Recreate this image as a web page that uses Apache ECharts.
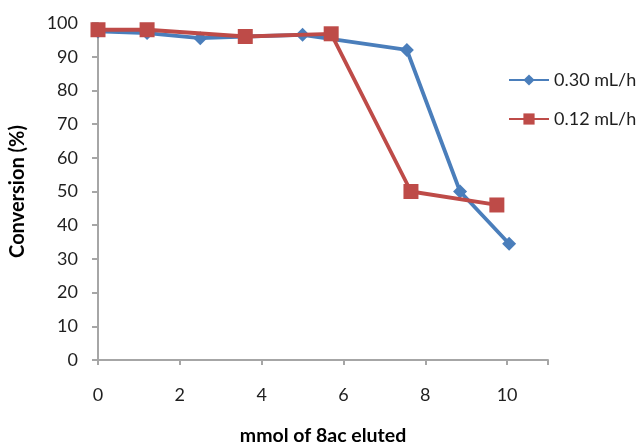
<!DOCTYPE html>
<html>
<head>
<meta charset="utf-8">
<style>
  html, body { margin: 0; padding: 0; background: #ffffff; }
  #chart { width: 637px; height: 443px; }
</style>
<script src="https://cdn.jsdelivr.net/npm/echarts@6/dist/echarts.min.js"></script>
</head>
<body>
<div id="chart"></div>
<script>
// Conversion versus amount of 8ac eluted, two flow rates
const seriesNames = ['0.30 mL/h', '0.12 mL/h'];
const fastX = [0, 1.2, 2.5, 3.6, 5.0, 7.55, 8.85, 10.05];
const fastY = [97.5, 97, 95.5, 96, 96.5, 92, 50, 34.5];
const slowX = [0, 1.2, 3.6, 5.7, 7.65, 9.75];
const slowY = [98, 98, 96, 96.8, 50, 46];
const xTicks = [0, 2, 4, 6, 8, 10];
const yTicks = [0, 10, 20, 30, 40, 50, 60, 70, 80, 90, 100];

const pair = (xs, ys) => xs.map((x, i) => [x, ys[i]]);

const font = 'Lato, "Liberation Sans", sans-serif';
const axisGray = '#a6a6a6';
const textColor = '#1f1f1f';

const chart = echarts.init(document.getElementById('chart'), null, { renderer: 'canvas' });
chart.setOption({
  animation: false,
  backgroundColor: '#ffffff',
  textStyle: { fontFamily: font },
  grid: {
    left: 98, top: 23, width: 450, height: 337,
    containLabel: false,
    outerBoundsMode: 'none'
  },
  legend: {
    orient: 'vertical',
    left: 503,
    top: 66,
    itemWidth: 40,
    itemHeight: 14,
    itemGap: 21,
    textStyle: { fontFamily: font, fontSize: 18, color: textColor },
    data: seriesNames
  },
  xAxis: {
    type: 'value',
    min: 0,
    max: 11,
    interval: 2,
    name: 'mmol of 8ac eluted',
    nameLocation: 'middle',
    nameGap: 66,
    nameTextStyle: { fontFamily: font, fontSize: 19.5, fontWeight: 'bold', color: '#000' },
    axisLine: { show: true, lineStyle: { color: axisGray, width: 2 } },
    axisTick: { show: true, length: 5, lineStyle: { color: axisGray, width: 2 } },
    splitLine: { show: false },
    axisLabel: {
      margin: 26,
      fontSize: 18,
      color: textColor,
      fontFamily: font,
      customValues: xTicks,
      formatter: v => (xTicks.includes(v) ? String(v) : '')
    }
  },
  yAxis: {
    type: 'value',
    min: 0,
    max: 100,
    interval: 10,
    name: 'Conversion (%)',
    nameLocation: 'middle',
    nameGap: 70,
    nameRotate: 90,
    nameTextStyle: { fontFamily: font, fontSize: 20, fontWeight: 'bold', color: '#000' },
    axisLine: { show: true, lineStyle: { color: axisGray, width: 2 } },
    axisTick: { show: true, length: 6, lineStyle: { color: axisGray, width: 2 } },
    splitLine: { show: false },
    axisLabel: {
      margin: 20,
      fontSize: 18,
      color: textColor,
      fontFamily: font,
      formatter: v => (yTicks.includes(v) ? String(v) : '')
    }
  },
  series: [
    {
      name: seriesNames[0],
      type: 'line',
      data: pair(fastX, fastY),
      symbol: 'diamond',
      symbolSize: 14,
      lineStyle: { color: '#4a7ebb', width: 3.8 },
      itemStyle: { color: '#4a7ebb' },
      z: 2
    },
    {
      name: seriesNames[1],
      type: 'line',
      data: pair(slowX, slowY),
      symbol: 'rect',
      symbolSize: 15,
      lineStyle: { color: '#be4b48', width: 3.8 },
      itemStyle: { color: '#be4b48' },
      z: 3
    }
  ]
});
</script>
</body>
</html>
